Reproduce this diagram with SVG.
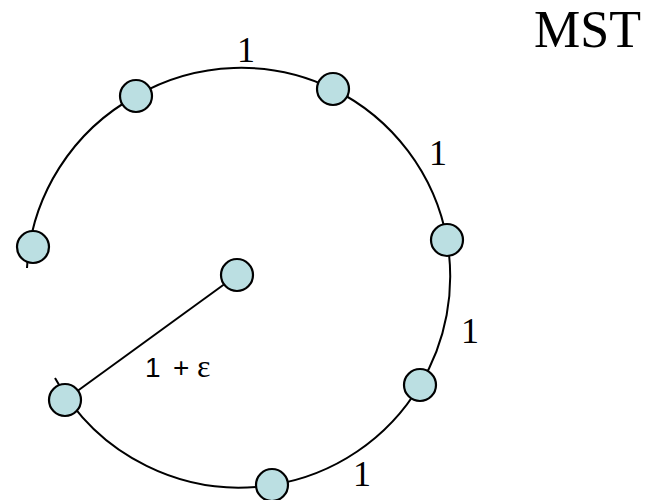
<svg xmlns="http://www.w3.org/2000/svg" width="650" height="500" viewBox="0 0 650 500">
<style>
.edge{fill:none;stroke:#000;stroke-width:2}
.node{fill:#BBDFE2;stroke:#000;stroke-width:2.2}
</style>
<rect width="650" height="500" fill="#fff"/>
<g id="connectors">
<path class="edge" d="M27 268 A210 210 0 0 1 136 96"/>
<path class="edge" d="M136 96 A210 210 0 0 1 333 89"/>
<path class="edge" d="M333 89 A210 210 0 0 1 447 240"/>
<path class="edge" d="M447 240 A210 210 0 0 1 420 385"/>
<path class="edge" d="M420 385 A210 210 0 0 1 272 485"/>
<path class="edge" d="M272 485 A210 210 0 0 1 55 378"/>
<line class="edge" x1="65" y1="400" x2="237" y2="275"/>
</g>
<g id="n1"><circle class="node" cx="136" cy="96" r="16"/></g>
<g id="n2"><circle class="node" cx="333" cy="89" r="16"/></g>
<g id="n3"><circle class="node" cx="447" cy="240" r="16"/></g>
<g id="n4"><circle class="node" cx="420" cy="385" r="16"/></g>
<g id="n5"><circle class="node" cx="272" cy="485" r="16"/></g>
<g id="n6"><circle class="node" cx="65" cy="400" r="16"/></g>
<g id="n7"><circle class="node" cx="237" cy="275" r="16"/></g>
<g id="n8"><circle class="node" cx="33" cy="247" r="16"/></g>
<g id="labels" font-family="'Liberation Serif', 'Times New Roman', serif" fill="#000">
<text x="246" y="62" font-size="36" text-anchor="middle">1</text>
<text x="438" y="165" font-size="36" text-anchor="middle">1</text>
<text x="470" y="343" font-size="36" text-anchor="middle">1</text>
<text x="362" y="486" font-size="36" text-anchor="middle">1</text>
<text y="377" font-size="28" font-family="'Liberation Sans', Arial, sans-serif"><tspan x="145">1</tspan> <tspan x="173">+</tspan> <tspan x="197" font-size="32" font-family="'Liberation Serif', 'Times New Roman', serif">ε</tspan></text>
<text x="534" y="47" font-size="52">MST</text>
</g>
</svg>
